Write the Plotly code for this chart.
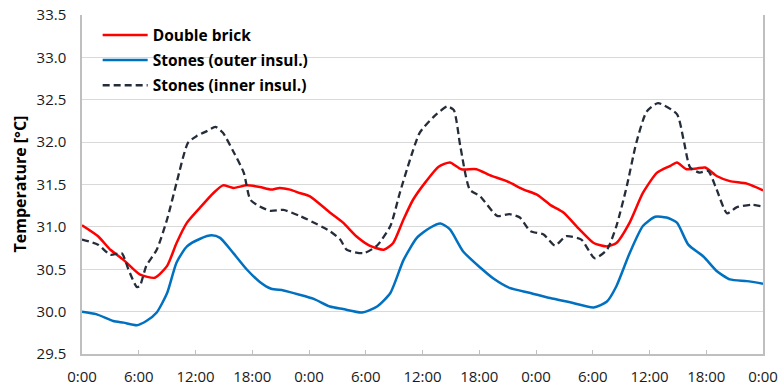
import plotly.graph_objects as go

# Hours since start (0..72) for each series' samples
brick_t = [0, 1.7, 3.0, 4.4, 6.1, 7.7, 9.0, 10.0, 11.1, 12.5, 13.9, 14.9, 16.0, 17.4, 18.8, 20.0, 20.9,
           22.0, 23.0, 24.1, 26.2, 27.6, 29.0, 30.4, 31.9, 32.9, 34.0, 35.0, 36.4, 37.7, 38.9, 40.1, 41.7,
           43.1, 44.9, 46.7, 48.1, 49.5, 50.9, 52.6, 54.1, 55.5, 56.5, 57.9, 59.3, 60.8, 62.2, 62.9, 63.9,
           65.0, 65.9, 67.1, 68.5, 70.3, 72.0]
brick_v = [31.02, 30.89, 30.73, 30.61, 30.44, 30.40, 30.54, 30.81, 31.05, 31.23, 31.40, 31.49, 31.46, 31.49,
           31.47, 31.44, 31.46, 31.44, 31.40, 31.36, 31.17, 31.05, 30.89, 30.78, 30.73, 30.81, 31.09, 31.32,
           31.54, 31.71, 31.76, 31.68, 31.68, 31.61, 31.54, 31.44, 31.38, 31.26, 31.17, 30.97, 30.81, 30.77,
           30.81, 31.05, 31.40, 31.64, 31.72, 31.76, 31.68, 31.69, 31.70, 31.60, 31.54, 31.51, 31.43]

outer_t = [0, 1.5, 3.3, 4.4, 5.8, 6.8, 7.9, 9.0, 10.0, 11.1, 12.5, 13.7, 14.6, 16.0, 17.4, 18.8, 20.0, 21.3,
           23.0, 24.5, 26.2, 27.6, 29.6, 31.2, 32.6, 34.0, 35.4, 36.8, 37.9, 38.9, 40.3, 42.1, 43.5, 45.2,
           47.4, 49.5, 51.6, 54.1, 55.5, 56.5, 57.9, 59.3, 60.6, 61.8, 62.9, 64.1, 65.7, 67.1, 68.5, 70.3, 72.0]
outer_v = [30.00, 29.97, 29.89, 29.87, 29.84, 29.89, 29.99, 30.22, 30.58, 30.77, 30.86, 30.90, 30.87, 30.69,
           30.50, 30.35, 30.27, 30.25, 30.20, 30.15, 30.06, 30.03, 29.99, 30.06, 30.22, 30.61, 30.87, 30.99,
           31.04, 30.97, 30.71, 30.52, 30.39, 30.28, 30.22, 30.16, 30.11, 30.05, 30.12, 30.30, 30.69, 31.01,
           31.12, 31.11, 31.05, 30.79, 30.65, 30.48, 30.38, 30.36, 30.33]

inner_t = [0, 1.7, 3.0, 4.2, 4.9, 5.8, 6.1, 6.8, 7.9, 9.0, 10.0, 11.2, 12.1, 13.2, 14.1, 14.9, 16.0, 17.1,
           17.8, 18.8, 19.9, 21.3, 23.0, 23.8, 26.2, 27.3, 28.0, 29.8, 31.2, 32.6, 33.6, 34.7, 35.7, 37.1,
           38.6, 39.3, 40.0, 41.0, 42.1, 43.9, 45.2, 46.3, 47.4, 48.8, 50.0, 51.2, 52.8, 54.2, 55.5, 56.5,
           57.6, 58.6, 59.7, 60.9, 62.9, 63.6, 64.3, 65.3, 66.2, 67.1, 68.2, 69.2, 70.8, 72.0]
inner_v = [30.85, 30.79, 30.67, 30.69, 30.50, 30.29, 30.30, 30.54, 30.73, 31.09, 31.52, 31.99, 32.07, 32.13,
           32.18, 32.11, 31.89, 31.64, 31.32, 31.24, 31.19, 31.20, 31.13, 31.09, 30.95, 30.85, 30.73, 30.69,
           30.78, 31.01, 31.40, 31.80, 32.11, 32.29, 32.42, 32.38, 31.95, 31.44, 31.36, 31.13, 31.15, 31.11,
           30.95, 30.91, 30.78, 30.89, 30.85, 30.63, 30.73, 31.01, 31.48, 31.99, 32.36, 32.46, 32.33, 32.03,
           31.70, 31.64, 31.66, 31.44, 31.16, 31.23, 31.26, 31.24]

tick_hours = list(range(0, 73, 6))
tick_labels = ["0:00", "6:00", "12:00", "18:00"] * 3 + ["0:00"]
y_ticks = [29.5, 30.0, 30.5, 31.0, 31.5, 32.0, 32.5, 33.0, 33.5]

series_names = ["Double brick", "Stones (outer insul.)", "Stones (inner insul.)"]
y_title = "Temperature [°C]"

FONT = "Open Sans"
L, R, T, B = 82, 16, 15, 32
W, H = 779, 386
plot_w = W - L - R

fig = go.Figure()
fig.add_trace(go.Scatter(x=brick_t, y=brick_v, name=series_names[0], mode="lines", legendgroup="a",
                         line=dict(color="#ff0000", width=2.5, shape="spline", smoothing=0.6)))
fig.add_trace(go.Scatter(x=outer_t, y=outer_v, name=series_names[1], mode="lines", legendgroup="b",
                         line=dict(color="#0070c0", width=2.5, shape="spline", smoothing=0.6)))
fig.add_trace(go.Scatter(x=inner_t, y=inner_v, name=series_names[2], mode="lines", legendgroup="c",
                         line=dict(color="#252d3a", width=2.3, dash="7px,4px", shape="spline", smoothing=0.6)))

fig.update_layout(
    width=W, height=H,
    margin=dict(l=L, r=R, t=T, b=B),
    paper_bgcolor="white", plot_bgcolor="white",
    font=dict(family=FONT, size=15, color="#1a1a1a"),
    showlegend=True,
    legend=dict(x=0.023, y=0.99, xanchor="left", yanchor="top",
                bgcolor="rgba(0,0,0,0)", font=dict(family=FONT, size=15.5, color="#000000", weight="bold"),
                itemwidth=45, tracegroupgap=2),
    xaxis=dict(range=[0, 72], tickvals=tick_hours, ticktext=tick_labels, automargin=False,
               showgrid=False, zeroline=False, showline=True, linecolor="#bfbfbf", linewidth=1.5,
               ticks="inside", ticklen=4, tickcolor="#bfbfbf", mirror=False,
               tickfont=dict(family=FONT, size=15, color="#1a1a1a"), ticklabelstandoff=8),
    yaxis=dict(range=[29.5, 33.5], tickvals=y_ticks, tickformat=".1f", automargin=False,
               showgrid=True, gridcolor="#d9d9d9", gridwidth=1, zeroline=False,
               showline=True, linecolor="#bfbfbf", linewidth=1.5, mirror=True, ticks="",
               tickfont=dict(family=FONT, size=15, color="#1a1a1a"), ticklabelstandoff=11),
    annotations=[dict(text=y_title, xref="paper", yref="paper", x=(19 - L) / plot_w, y=0.5,
                      xanchor="center", yanchor="middle", textangle=-90, showarrow=False,
                      font=dict(family=FONT, size=16, color="#000000", weight="bold"))],
)

fig.write_html("out.html", config={"displayModeBar": False},
               post_script="document.body.style.margin='0px';document.body.style.overflow='hidden';")
